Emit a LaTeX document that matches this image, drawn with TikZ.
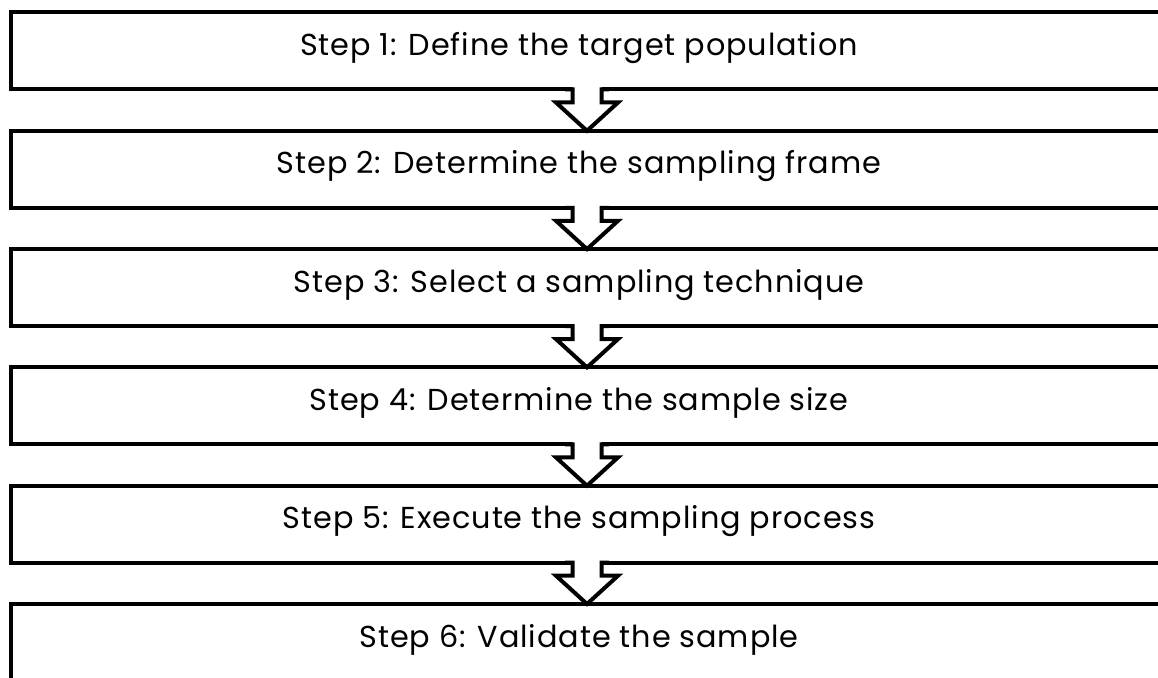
\documentclass[tikz,border=0pt]{standalone}
\usepackage{fontspec}
\setmainfont[LetterSpace=3]{Poppins}
\usetikzlibrary{calc}
\begin{document}
\begin{tikzpicture}[x=1bp,y=-1bp,
  stepbox/.style={draw=black, line width=4bp, minimum width=1152bp, minimum height=77bp, inner sep=0pt, outer sep=0pt},
  steptext/.style={anchor=base, inner sep=0pt, font=\fontsize{30.4}{35}\selectfont},
  arrowline/.style={draw=black, line width=4bp},
  arrowfill/.style={fill=white}]
\useasboundingbox (0,0) rectangle (1158,678);
\clip (0,0) rectangle (1158,678);
\node[stepbox] (s1) at (587,51) {};
\node[stepbox] (s2) at (587,169.3) {};
\node[stepbox] (s3) at (587,287.6) {};
\node[stepbox] (s4) at (587,405.9) {};
\node[stepbox] (s5) at (587,524.2) {};
\node[stepbox] (s6) at (587,642.5) {};
\node[steptext] (t1) at ($(s1.center)+(-8,4.5)$) {Step 1: Define the target population};
\node[steptext] (t2) at ($(s2.center)+(-8,4.5)$) {Step 2: Determine the sampling frame};
\node[steptext] (t3) at ($(s3.center)+(-8,4.5)$) {Step 3: Select a sampling technique};
\node[steptext] (t4) at ($(s4.center)+(-8,4.5)$) {Step 4: Determine the sample size};
\node[steptext] (t5) at ($(s5.center)+(-8,4.5)$) {Step 5: Execute the sampling process};
\node[steptext] (t6) at ($(s6.center)+(-8,4.5)$) {Step 6: Validate the sample};
\foreach \a/\b in {s1/s2,s2/s3,s3/s4,s4/s5,s5/s6}{
  \path[arrowfill] ($(\a.south)+(-14.5,-3)$) -- ($(\a.south)+(-14.5,13)$) -- ($(\a.south)+(-31,13)$) -- (\b.north) -- ($(\a.south)+(31,13)$) -- ($(\a.south)+(14.5,13)$) -- ($(\a.south)+(14.5,-3)$) -- cycle;
  \path[arrowline] ($(\a.south)+(-22,0)$) -- ($(\a.south)+(-14.5,0)$) -- ($(\a.south)+(-14.5,13)$) -- ($(\a.south)+(-31,13)$) -- (\b.north) -- ($(\a.south)+(31,13)$) -- ($(\a.south)+(14.5,13)$) -- ($(\a.south)+(14.5,0)$) -- ($(\a.south)+(22,0)$);
}
\end{tikzpicture}
\end{document}
